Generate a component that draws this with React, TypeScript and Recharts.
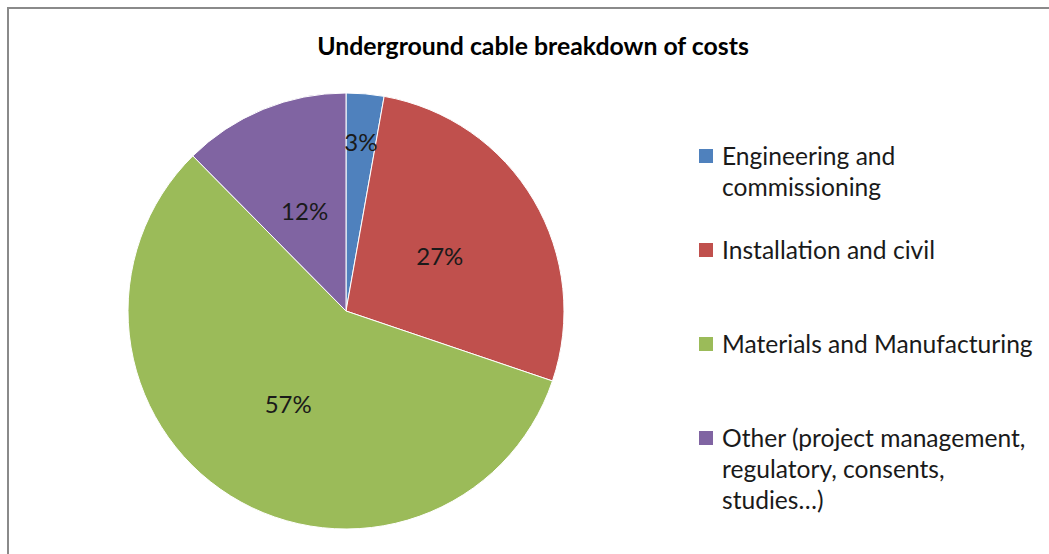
import { Cell, Legend, Pie, PieChart } from 'recharts';

const categories = [
    'Engineering and\ncommissioning',
    'Installation and civil',
    'Materials and Manufacturing',
    'Other (project management,\nregulatory, consents,\nstudies…)',
];
const shares = [2.8, 27.4, 57.4, 12.4];
const colors = ['#4F81BD', '#C0504D', '#9BBB59', '#8064A2'];
// how far out each percentage label sits (fraction of radius)
const labelRadius = [0.78, 0.5, 0.5, 0.5];

const data = categories.map((name, i) => ({ name, value: shares[i] }));

const FONT = 'Lato, "Open Sans", sans-serif';
const RAD = Math.PI / 180;

const renderLabel = (props: any) => {
    const { cx, cy, midAngle, outerRadius, percent, index } = props;
    const r = outerRadius * labelRadius[index];
    const x = cx + r * Math.cos(-midAngle * RAD);
    const y = cy + r * Math.sin(-midAngle * RAD);
    return (
        <text
            x={x}
            y={y}
            fill="#1a1a1a"
            fontSize={24}
            fontFamily={FONT}
            textAnchor="middle"
            dominantBaseline="central"
        >
            {`${Math.round(percent * 100)}%`}
        </text>
    );
};

const renderLegend = (props: any) => {
    const { payload } = props;
    return (
        <div style={{ fontFamily: FONT, fontSize: 24.6, color: '#1a1a1a' }}>
            {payload.map((entry: any, i: number) => (
                <div key={i} style={{ height: 94, display: 'flex', alignItems: 'flex-start' }}>
                    <span
                        style={{
                            width: 14,
                            height: 14,
                            marginTop: 9,
                            marginRight: 9,
                            background: colors[i],
                            flexShrink: 0,
                        }}
                    />
                    <span style={{ whiteSpace: 'pre-line', lineHeight: '31px' }}>
                        {entry.payload.name}
                    </span>
                </div>
            ))}
        </div>
    );
};

export default function App() {
    return (
        <div
            style={{
                position: 'fixed',
                left: 0,
                top: 0,
                width: 1049,
                height: 554,
                overflow: 'hidden',
                background: '#fff',
            }}
        >
            <div
                style={{
                    position: 'absolute',
                    left: 7,
                    top: 7,
                    width: 1100,
                    height: 600,
                    border: '2px solid #8a8a8a',
                    boxSizing: 'border-box',
                }}
            />
            <div
                style={{
                    position: 'absolute',
                    left: 0,
                    top: 31,
                    width: 1066,
                    textAlign: 'center',
                    fontFamily: FONT,
                    fontWeight: 700,
                    fontSize: 24.8,
                    color: '#000',
                }}
            >
                Underground cable breakdown of costs
            </div>
            <PieChart
                width={1049}
                height={554}
                margin={{ top: 0, right: 0, bottom: 0, left: 0 }}
                style={{ position: 'absolute', left: 0, top: 0 }}
            >
                <Pie
                    data={data}
                    dataKey="value"
                    nameKey="name"
                    cx={346}
                    cy={311}
                    outerRadius={218}
                    startAngle={90}
                    endAngle={-270}
                    stroke="#ffffff"
                    strokeWidth={1}
                    label={renderLabel}
                    labelLine={false}
                    isAnimationActive={false}
                >
                    {data.map((_, i) => (
                        <Cell key={i} fill={colors[i]} />
                    ))}
                </Pie>
                <Legend
                    content={renderLegend}
                    wrapperStyle={{ position: 'absolute', left: 699, top: 140, width: 350 }}
                />
            </PieChart>
        </div>
    );
}
